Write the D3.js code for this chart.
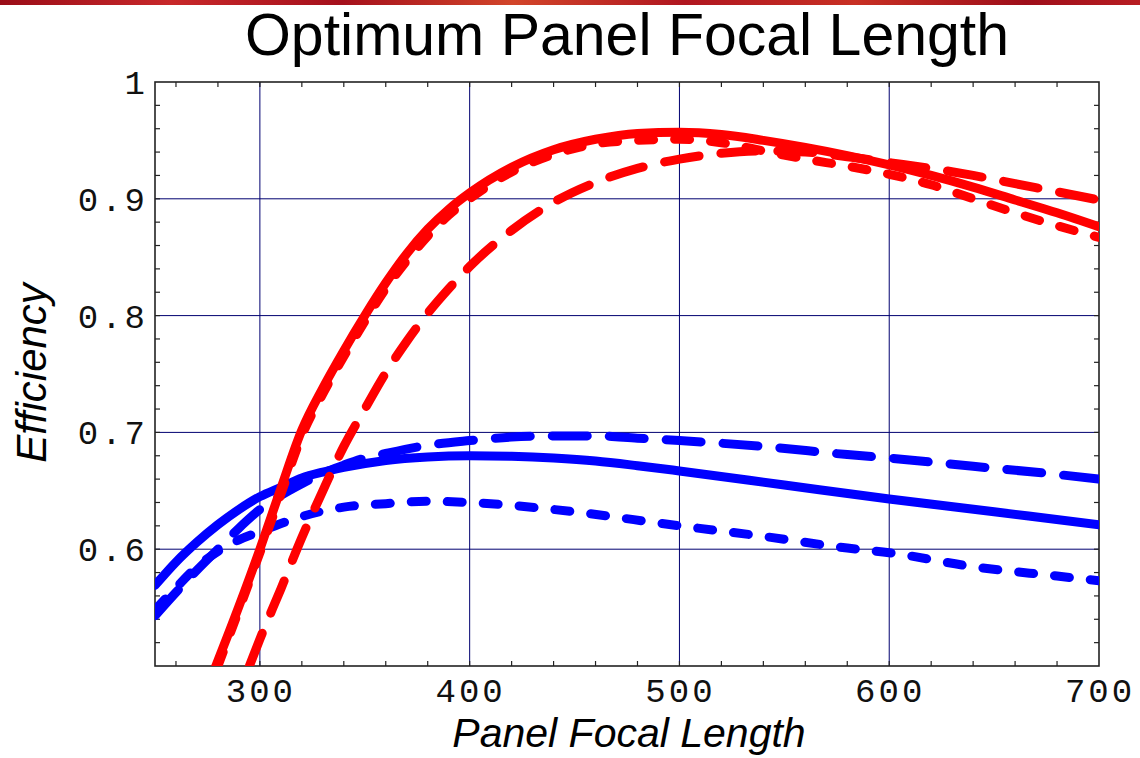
<!DOCTYPE html>
<html><head><meta charset="utf-8">
<script src="https://cdn.jsdelivr.net/npm/d3@7"></script>
<style>body{margin:0;background:#fff;overflow:hidden} svg{display:block}</style>
</head><body>
<svg id="c" width="1140" height="758"></svg>
<script>
// ---- data ----
const titleText = "Optimum Panel Focal Length";
const xLabel = "Panel Focal Length";
const yLabel = "Efficiency";
const xTickValues = [300, 400, 500, 600, 700];
const yTickValues = [0.6, 0.7, 0.8, 0.9, 1];

const redSolidX = [279,290,300,310,320,330,340,350,360,370,380,390,400,420,440,460,480,500,520,540,560,580,600,620,640,660,680,700];
const redSolidY = [0.50,0.551,0.600,0.652,0.702,0.738,0.770,0.800,0.828,0.853,0.874,0.891,0.905,0.927,0.942,0.951,0.956,0.957,0.955,0.950,0.944,0.937,0.929,0.920,0.910,0.899,0.888,0.876];

const redShortDashX = [280,290,300,310,320,330,340,350,360,370,380,390,400,420,440,460,480,500,520,540,560,580,600,620,640,660,680,700];
const redShortDashY = [0.50,0.548,0.597,0.647,0.697,0.733,0.765,0.795,0.823,0.847,0.868,0.886,0.900,0.923,0.938,0.947,0.950,0.951,0.948,0.941,0.934,0.928,0.921,0.912,0.900,0.888,0.877,0.867];

const redLongDashX = [295,300,310,320,330,340,350,360,370,380,390,400,420,440,460,480,500,520,540,560,580,600,620,640,660,680,700];
const redLongDashY = [0.50,0.523,0.566,0.610,0.650,0.688,0.720,0.751,0.778,0.802,0.823,0.842,0.873,0.897,0.914,0.926,0.934,0.939,0.941,0.940,0.936,0.931,0.926,0.920,0.913,0.906,0.899];

const blueSolidX = [250,260,270,280,290,300,310,320,330,340,360,380,400,420,440,460,480,500,550,600,650,700];
const blueSolidY = [0.569,0.589,0.606,0.621,0.634,0.645,0.653,0.661,0.666,0.670,0.676,0.679,0.680,0.6795,0.678,0.6755,0.6715,0.667,0.655,0.643,0.632,0.621];

const blueLongDashX = [250,260,270,280,290,300,310,320,330,340,350,360,380,400,420,440,460,480,500,540,580,600,640,680,700];
const blueLongDashY = [0.543,0.563,0.582,0.600,0.618,0.634,0.646,0.656,0.665,0.672,0.678,0.682,0.689,0.693,0.696,0.697,0.697,0.695,0.693,0.688,0.681,0.678,0.671,0.664,0.660];

const blueShortDashX = [250,260,270,280,290,300,320,340,360,380,400,440,500,540,580,600,640,680,700];
const blueShortDashY = [0.548,0.567,0.585,0.598,0.608,0.615,0.628,0.636,0.639,0.641,0.640,0.634,0.620,0.611,0.601,0.597,0.585,0.577,0.573];

// ---- layout ----
const svg = d3.select("#c");
const L = 155, R = 1099, T = 82, B = 666;
const x = d3.scaleLinear().domain([250, 700]).range([L, R]);
const y = d3.scaleLinear().domain([0.5, 1]).range([B, T]);

// top decorative band
const defs = svg.append("defs");
const grad = defs.append("linearGradient").attr("id", "band");
[["0%","#9a0d18"],["15%","#c8282a"],["30%","#a5101c"],["45%","#d2452a"],["60%","#b01620"],["75%","#c83024"],["90%","#9e0e1a"],["100%","#b81d22"]]
  .forEach(s => grad.append("stop").attr("offset", s[0]).attr("stop-color", s[1]));
svg.append("rect").attr("x", 0).attr("y", 0).attr("width", 1140).attr("height", 5).attr("fill", "url(#band)");

// clip
defs.append("clipPath").attr("id", "plot")
  .append("rect").attr("x", L).attr("y", T).attr("width", R - L).attr("height", B - T);

// grid lines
const gridCol = "#000070";
svg.append("g").selectAll("line").data(xTickValues.filter(v => v < 700)).join("line")
  .attr("x1", d => x(d)).attr("x2", d => x(d)).attr("y1", T).attr("y2", B)
  .attr("stroke", gridCol).attr("stroke-width", 1);
svg.append("g").selectAll("line").data(yTickValues.filter(v => v < 1)).join("line")
  .attr("y1", d => y(d)).attr("y2", d => y(d)).attr("x1", L).attr("x2", R)
  .attr("stroke", gridCol).attr("stroke-width", 1);

// minor ticks on all four sides, pointing inward
const xMinor = d3.range(260, 700, 20);
const yMinor = d3.range(0.52, 0.995, 0.02);
const tk = 5, tickCol = "#222";
const tg = svg.append("g").attr("stroke", tickCol).attr("stroke-width", 1.2);
xMinor.forEach(v => {
  tg.append("line").attr("x1", x(v)).attr("x2", x(v)).attr("y1", B).attr("y2", B - tk);
  tg.append("line").attr("x1", x(v)).attr("x2", x(v)).attr("y1", T).attr("y2", T + tk);
});
yMinor.forEach(v => {
  tg.append("line").attr("y1", y(v)).attr("y2", y(v)).attr("x1", L).attr("x2", L + tk);
  tg.append("line").attr("y1", y(v)).attr("y2", y(v)).attr("x1", R).attr("x2", R - tk);
});

// frame
svg.append("rect").attr("x", L).attr("y", T).attr("width", R - L).attr("height", B - T)
  .attr("fill", "none").attr("stroke", "#222").attr("stroke-width", 1.6);

// curves
const line = d3.line().x(d => x(d[0])).y(d => y(d[1])).curve(d3.curveMonotoneX);
const series = [
  {xs: blueShortDashX, ys: blueShortDashY, color: "#0000ff", dash: "15,21"},
  {xs: blueLongDashX, ys: blueLongDashY, color: "#0000ff", dash: "35,22"},
  {xs: blueSolidX, ys: blueSolidY, color: "#0000ff", dash: null},
  {xs: redLongDashX, ys: redLongDashY, color: "#ff0000", dash: "35,22"},
  {xs: redShortDashX, ys: redShortDashY, color: "#ff0000", dash: "15,21"},
  {xs: redSolidX, ys: redSolidY, color: "#ff0000", dash: null}
];
const cg = svg.append("g").attr("clip-path", "url(#plot)");
series.forEach(s => {
  cg.append("path").datum(s.xs.map((v, i) => [v, s.ys[i]]))
    .attr("d", line).attr("fill", "none").attr("stroke", s.color)
    .attr("stroke-width", 9).attr("stroke-linecap", "round").attr("stroke-linejoin", "round")
    .attr("stroke-dasharray", s.dash);
});

// tick labels
const monoFont = "'Liberation Mono', 'DejaVu Sans Mono', monospace";
const fmt = v => v === 1 ? "1" : d3.format(".1f")(v);
svg.append("g").selectAll("text").data(xTickValues).join("text")
  .attr("x", d => x(d) + 1).attr("y", 702).attr("text-anchor", "middle")
  .attr("font-family", monoFont).attr("font-size", 34).attr("letter-spacing", 3)
  .attr("fill", "#111").text(d => d);
svg.append("g").selectAll("text").data(yTickValues).join("text")
  .attr("x", 148).attr("y", d => y(d) + 12).attr("text-anchor", "end")
  .attr("font-family", monoFont).attr("font-size", 34).attr("letter-spacing", 3)
  .attr("fill", "#111").text(fmt);

// title & axis labels
svg.append("text").attr("x", 627).attr("y", 55).attr("text-anchor", "middle")
  .attr("font-family", "'Liberation Sans', Arial, sans-serif").attr("font-size", 59)
  .attr("fill", "#000").text(titleText);
svg.append("text").attr("x", 629).attr("y", 747).attr("text-anchor", "middle")
  .attr("font-family", "'Liberation Sans', Arial, sans-serif").attr("font-style", "italic")
  .attr("font-size", 41).attr("fill", "#000").text(xLabel);
svg.append("text").attr("transform", "translate(46,373) rotate(-90)").attr("text-anchor", "middle")
  .attr("font-family", "'Liberation Sans', Arial, sans-serif").attr("font-style", "italic")
  .attr("font-size", 42).attr("fill", "#000").text(yLabel);
</script>
</body></html>
